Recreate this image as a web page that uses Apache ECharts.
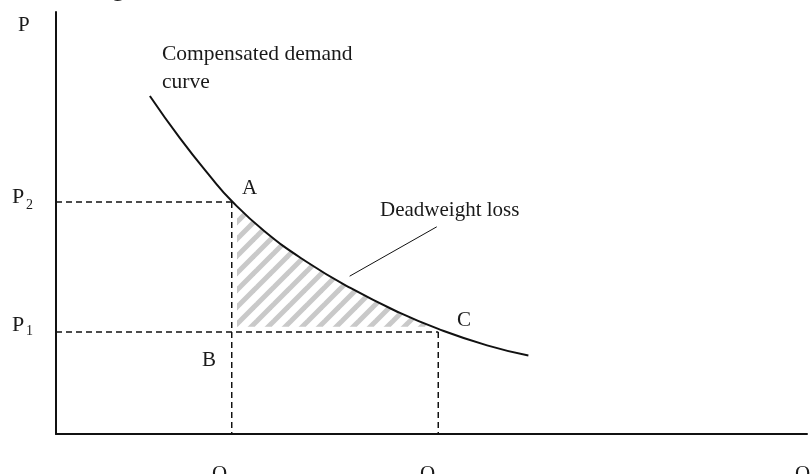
<!DOCTYPE html>
<html>
<head>
<meta charset="utf-8">
<script src="https://cdn.jsdelivr.net/npm/echarts@6/dist/echarts.min.js"></script>
<style>
  html, body { margin: 0; padding: 0; background: #fff; }
  #chart { width: 811px; height: 474px; }
</style>
</head>
<body>
<div id="chart"></div>
<script>
// compensated demand curve (Q and P on a 0-100 scale)
const curveQ = [12.5, 16.5, 20.5, 23.4, 27.8, 33.2, 39.2, 45.8, 50.9, 57.4, 62.9];
const curveP = [80.1, 70.1, 61.1, 55.2, 48.0, 41.0, 34.6, 28.7, 24.9, 21.0, 18.6];

// the two price / quantity points
const Q2 = 23.4, Q1 = 50.9;
const P2 = 55.0, P1 = 24.2;

// hatched area begins just inside the dashed lines
const hatchQ = 24.1, hatchP = 25.4;

// leader line from "Deadweight loss" down to the curve
const leaderQ = [50.7, 39.1];
const leaderP = [49.1, 37.4];

const serif = '"Liberation Serif", "Times New Roman", serif';
const chart = echarts.init(document.getElementById('chart'));

function makeHatch() {
  const s = 17;
  const c = document.createElement('canvas');
  c.width = s;
  c.height = s;
  const ctx = c.getContext('2d');
  ctx.strokeStyle = '#c9c9c9';
  ctx.lineWidth = 5;
  // lines x + y = s*(k+1), drawn past the tile edges so tiles join cleanly
  for (let k = -1; k <= 1; k++) {
    ctx.beginPath();
    ctx.moveTo(-s + k * s, 2 * s);
    ctx.lineTo(2 * s + k * s, -s);
    ctx.stroke();
  }
  return c;
}
const hatch = makeHatch();

// linear lookups on the read points, used only to close the hatched polygon
function pOnCurve(q) {
  for (let i = 1; i < curveQ.length; i++) {
    if (q <= curveQ[i]) {
      const t = (q - curveQ[i - 1]) / (curveQ[i] - curveQ[i - 1]);
      return curveP[i - 1] + t * (curveP[i] - curveP[i - 1]);
    }
  }
  return curveP[curveP.length - 1];
}
function qOnCurve(p) {
  for (let i = 1; i < curveP.length; i++) {
    if (p >= curveP[i]) {
      const t = (curveP[i - 1] - p) / (curveP[i - 1] - curveP[i]);
      return curveQ[i - 1] + t * (curveQ[i] - curveQ[i - 1]);
    }
  }
  return curveQ[curveQ.length - 1];
}

function hatchPolygon() {
  const pts = [[hatchQ, hatchP], [hatchQ, pOnCurve(hatchQ)]];
  curveQ.forEach((q, i) => {
    if (q > hatchQ && curveP[i] > hatchP) pts.push([q, curveP[i]]);
  });
  pts.push([qOnCurve(hatchP), hatchP]);
  return pts;
}

function txt(x, y, text, size) {
  return {
    type: 'text',
    x: x,
    y: y,
    silent: true,
    style: {
      text: text,
      font: size + 'px ' + serif,
      fill: '#1a1a1a',
      align: 'left',
      verticalAlign: 'middle'
    }
  };
}

const dash = { color: '#111', width: 1.5, type: [6, 4] };

chart.setOption({
  animation: false,
  backgroundColor: '#fff',
  grid: { left: 56, right: 4, top: 12, bottom: 40 },
  xAxis: {
    type: 'value', min: 0, max: 100,
    axisLine: { show: true, lineStyle: { color: '#111', width: 2 } },
    axisTick: { show: false }, axisLabel: { show: false }, splitLine: { show: false }
  },
  yAxis: {
    type: 'value', min: 0, max: 100,
    axisLine: { show: true, lineStyle: { color: '#111', width: 2 } },
    axisTick: { show: false }, axisLabel: { show: false }, splitLine: { show: false }
  },
  series: [
    {
      type: 'custom',
      z: 1,
      data: [[hatchQ, hatchP]],
      renderItem: function (params, api) {
        return {
          type: 'polygon',
          shape: { points: hatchPolygon().map(p => api.coord(p)) },
          style: { fill: { image: hatch, repeat: 'repeat' } }
        };
      }
    },
    { type: 'line', symbol: 'none', z: 3, lineStyle: dash, data: [[0, P2], [Q2, P2]] },
    { type: 'line', symbol: 'none', z: 3, lineStyle: dash, data: [[Q2, P2], [Q2, 0]] },
    { type: 'line', symbol: 'none', z: 3, lineStyle: dash, data: [[0, P1], [Q1, P1]] },
    { type: 'line', symbol: 'none', z: 3, lineStyle: dash, data: [[Q1, P1], [Q1, 0]] },
    {
      type: 'line', symbol: 'none', z: 4,
      lineStyle: { color: '#111', width: 1 },
      data: leaderQ.map((q, i) => [q, leaderP[i]])
    },
    {
      name: 'Compensated demand curve',
      type: 'line', symbol: 'none', smooth: true, z: 5,
      lineStyle: { color: '#111', width: 2 },
      data: curveQ.map((q, i) => [q, curveP[i]])
    }
  ],
  graphic: [
    txt(112, -10, 'g', 24),
    txt(18, 25, 'P', 21),
    txt(162, 54, 'Compensated demand', 21.5),
    txt(162, 82, 'curve', 21.5),
    txt(12, 197, 'P', 22),
    txt(26, 205, '2', 14),
    txt(12, 325, 'P', 22),
    txt(26, 331, '1', 14),
    txt(242, 188, 'A', 21),
    txt(202, 360, 'B', 21),
    txt(457, 320, 'C', 21),
    txt(380, 210, 'Deadweight loss', 21),
    txt(212, 474, 'Q', 21),
    txt(229, 480, '2', 14),
    txt(420, 474, 'Q', 21),
    txt(437, 480, '1', 14),
    txt(795, 474, 'Q', 21)
  ]
});
</script>
</body>
</html>
